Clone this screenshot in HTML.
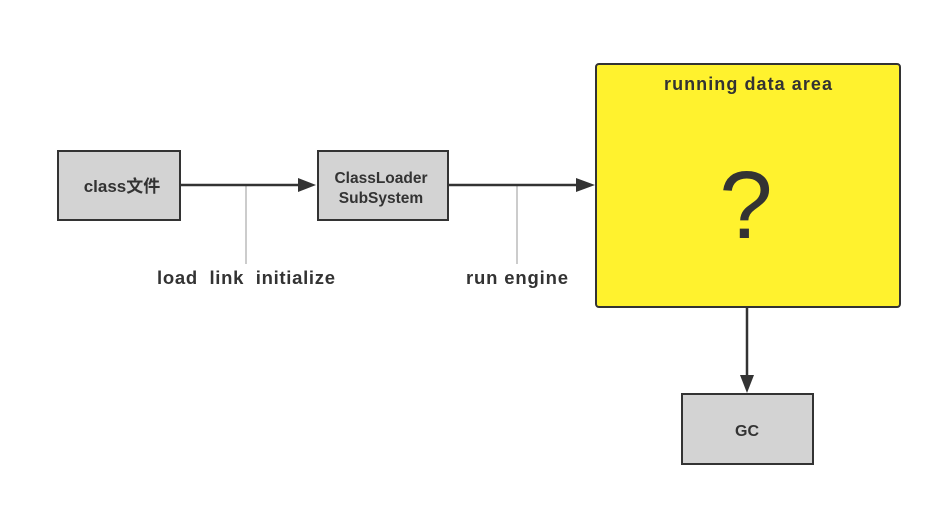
<!DOCTYPE html>
<html><head><meta charset="utf-8"><style>
body{margin:0;width:938px;height:511px;background:#fff;overflow:hidden}
</style></head><body>
<svg width="938" height="511" xmlns="http://www.w3.org/2000/svg" font-family="'Liberation Sans','Noto Sans CJK SC',sans-serif" font-weight="bold">
<rect x="0" y="0" width="938" height="511" fill="#fff"/>
<line x1="246" y1="185" x2="246" y2="264" stroke="#bbb" stroke-width="1.5"/>
<line x1="517" y1="185" x2="517" y2="264" stroke="#bbb" stroke-width="1.5"/>
<line x1="181" y1="185" x2="302" y2="185" stroke="#333" stroke-width="2.5"/>
<polygon points="298,178 316,185 298,192" fill="#333"/>
<line x1="449" y1="185" x2="580" y2="185" stroke="#333" stroke-width="2.5"/>
<polygon points="576,178 595,185 576,192" fill="#333"/>
<line x1="747" y1="307" x2="747" y2="378" stroke="#333" stroke-width="2.5"/>
<polygon points="740,375 747,393 754,375" fill="#333"/>
<rect x="58" y="151" width="122" height="69" fill="#d3d3d3" stroke="#333" stroke-width="2"/>
<text x="122" y="192" text-anchor="middle" font-size="17" fill="#333">class文件</text>
<rect x="318" y="151" width="130" height="69" fill="#d3d3d3" stroke="#333" stroke-width="2"/>
<text x="381" y="183" text-anchor="middle" font-size="15.5" fill="#333">ClassLoader</text>
<text x="381" y="203" text-anchor="middle" font-size="15.5" fill="#333">SubSystem</text>
<rect x="596" y="64" width="304" height="243" rx="3" fill="#fff22e" stroke="#333" stroke-width="2"/>
<text x="748" y="90" text-anchor="middle" font-size="18" fill="#333" textLength="168">running data area</text>
<text x="746" y="238" text-anchor="middle" font-size="96" font-weight="normal" fill="#333">?</text>
<rect x="682" y="394" width="131" height="70" fill="#d3d3d3" stroke="#333" stroke-width="2"/>
<text x="747" y="436" text-anchor="middle" font-size="16" fill="#333">GC</text>
<text x="246" y="284" text-anchor="middle" font-size="18.5" fill="#333" xml:space="preserve" textLength="178">load  link  initialize</text>
<text x="517" y="284" text-anchor="middle" font-size="18.5" fill="#333" textLength="102">run engine</text>
</svg>
</body></html>
